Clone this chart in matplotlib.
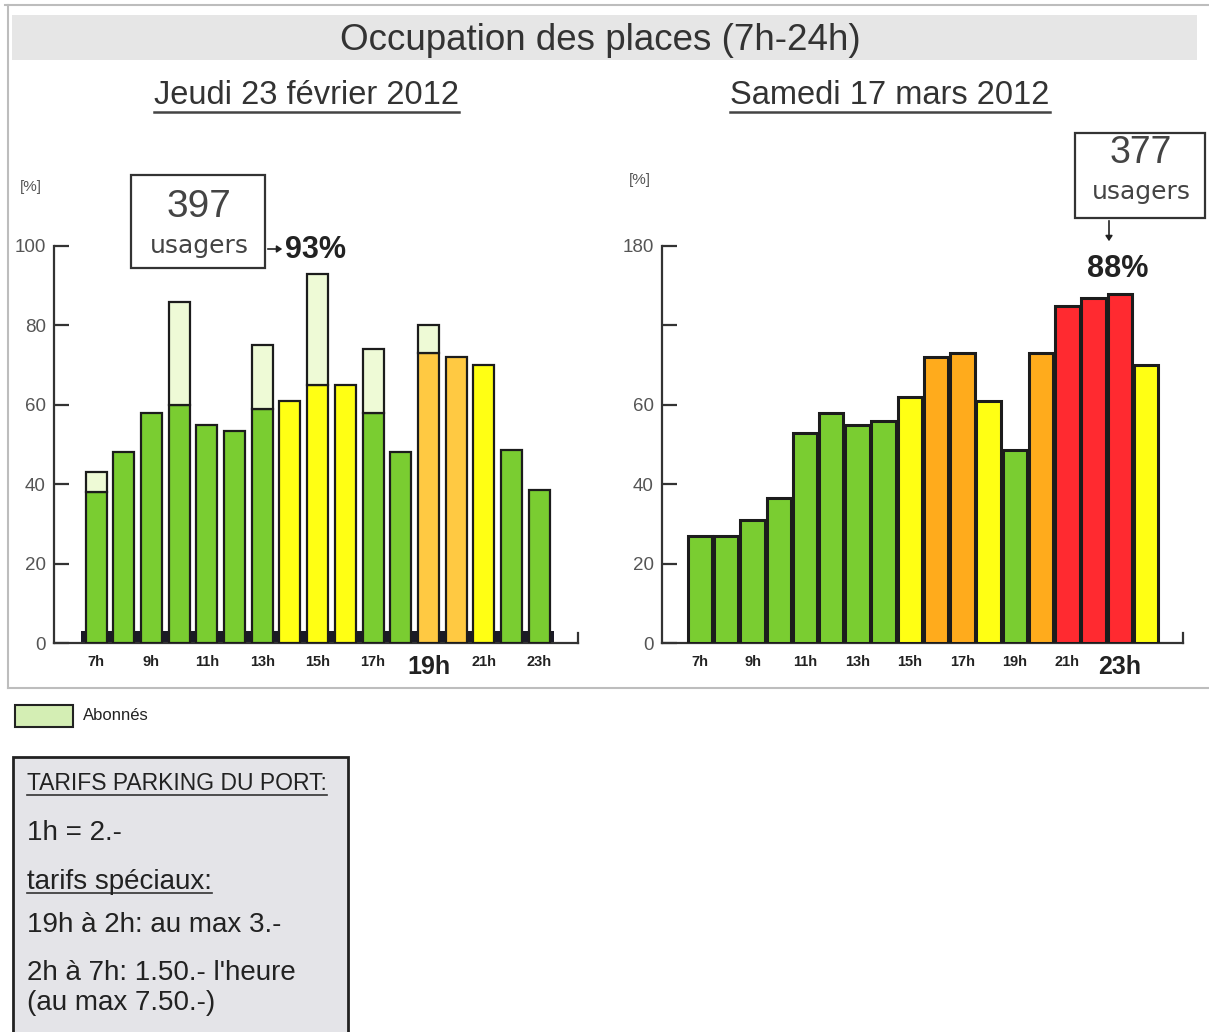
import matplotlib
matplotlib.use("Agg")
import matplotlib.pyplot as plt
from matplotlib.patches import Rectangle, FancyArrowPatch
from matplotlib.lines import Line2D

W, H, DPI = 1209, 1032, 100

# ---------------- data ----------------
heures_jeudi = [7, 8, 9, 10, 11, 12, 13, 14, 15, 16, 17, 18, 19, 20, 21, 22, 23]
jeudi_usagers = [38, 48, 58, 60, 55, 53.5, 59, 61, 65, 65, 58, 48, 73, 72, 70, 48.5, 38.5]
jeudi_abonnes = [5, 0, 0, 26, 0, 0, 16, 0, 28, 0, 16, 0, 7, 0, 0, 0, 0]
jeudi_niveaux = ["vert", "vert", "vert", "vert", "vert", "vert", "vert", "jaune", "jaune",
                 "jaune", "vert", "vert", "orange_clair", "orange_clair", "jaune", "vert", "vert"]

heures_samedi = [7, 8, 9, 10, 11, 12, 13, 14, 15, 16, 17, 18, 19, 20, 21, 22, 23, 24]
samedi_usagers = [27, 27, 31, 36.5, 53, 58, 55, 56, 62, 72, 73, 61, 48.5, 73, 85, 87, 88, 70]
samedi_niveaux = ["vert", "vert", "vert", "vert", "vert", "vert", "vert", "vert", "jaune",
                  "orange", "orange", "jaune", "vert", "orange", "rouge", "rouge", "rouge", "jaune"]

ticks_jeudi = [7, 9, 11, 13, 15, 17, 19, 21, 23]
ticks_samedi = [7, 9, 11, 13, 15, 17, 19, 21, 23]
grande_heure_jeudi = 19
grande_heure_samedi = 23
yticks = [0, 20, 40, 60, 80, 100]
ylabels_jeudi = ["0", "20", "40", "60", "80", "100"]
ylabels_samedi = ["0", "20", "40", "60", "", "180"]

usagers_jeudi = 397
usagers_samedi = 377

tarifs = ["TARIFS PARKING DU PORT:", "1h = 2.-", "tarifs spéciaux:",
          "19h à 2h: au max 3.-", "2h à 7h: 1.50.- l'heure", "(au max 7.50.-)"]

# ---------------- style ----------------
NIVEAU = {
    "vert": "#7acd31",
    "jaune": "#ffff14",
    "orange_clair": "#ffc942",
    "orange": "#ffab1c",
    "rouge": "#ff2a30",
}
ABONNE = "#eefad6"
ABONNE_LEGENDE = "#d4eeb4"
EDGE = "#1c1c1c"
AXIS = "#333333"

SANS = "Liberation Sans"
WIDE = "DejaVu Sans"
plt.rcParams["font.family"] = [SANS, "DejaVu Sans"]

fig = plt.figure(figsize=(W / DPI, H / DPI), dpi=DPI, facecolor="white")


def fx(x):
    return x / W


def fy(y):
    return 1 - y / H


def px_axes(x0, x1, y_top, y_bot):
    return fig.add_axes([fx(x0), fy(y_bot), (x1 - x0) / W, (y_bot - y_top) / H])


def ftext(x, y, s, **kw):
    return fig.text(fx(x), fy(y), s, transform=fig.transFigure, **kw)


def frect(x0, y0, x1, y1, **kw):
    r = Rectangle((fx(x0), fy(y1)), (x1 - x0) / W, (y1 - y0) / H,
                  transform=fig.transFigure, **kw)
    fig.patches.append(r)
    return r


def fline(xs, ys, **kw):
    fig.lines.append(Line2D([fx(x) for x in xs], [fy(y) for y in ys],
                            transform=fig.transFigure, **kw))


# outer frame and title band
fline([5, 1209], [5, 5], color="#bdbdbd", lw=1.5)
fline([8, 8], [5, 688], color="#bdbdbd", lw=1.5)
fline([8, 1209], [688, 688], color="#bdbdbd", lw=1.5)
frect(12, 15, 1197, 60, facecolor="#e6e6e6", edgecolor="none")
ftext(600, 40, "Occupation des places (7h-24h)", ha="center", va="center",
      fontsize=26.5, color="#333333")

sous_titres = [
    ftext(306, 96, "Jeudi 23 février 2012", ha="center", va="center",
          fontsize=23.5, color="#333333"),
    ftext(890, 96, "Samedi 17 mars 2012", ha="center", va="center",
          fontsize=23.5, color="#333333"),
]

# ---------------- charts ----------------
axL = px_axes(54, 578, 246, 643)
axR = px_axes(662, 1183, 246, 643)


def style_axes(ax, xlim, ylabels, ticks, grande):
    ax.set_xlim(*xlim)
    ax.set_ylim(0, 100)
    ax.patch.set_alpha(0)
    ax.spines["top"].set_visible(False)
    for s in ("left", "bottom", "right"):
        ax.spines[s].set_color(AXIS)
        ax.spines[s].set_linewidth(1.6)
    ax.spines["right"].set_bounds(0, 2.6)
    ax.set_yticks(yticks)
    ax.set_yticklabels(ylabels)
    ax.tick_params(axis="y", direction="in", length=11, width=1.6, color=AXIS,
                   labelsize=13.5, labelcolor="#555555", pad=6)
    ax.set_xticks(ticks)
    ax.set_xticklabels([f"{h}h" for h in ticks])
    ax.tick_params(axis="x", length=0, pad=9)
    for t, h in zip(ax.get_xticklabels(), ticks):
        t.set_fontweight("bold")
        t.set_color("#222222")
        t.set_fontsize(18 if h == grande else 10.5)


style_axes(axL, (5.48, 24.4), ylabels_jeudi, ticks_jeudi, grande_heure_jeudi)
style_axes(axR, (5.55, 25.41), ylabels_samedi, ticks_samedi, grande_heure_samedi)

# Thursday: dark base strip, occupancy bars, then subscriber share on top
axL.fill_between([heures_jeudi[0] - 0.55, heures_jeudi[-1] + 0.55], 0, 3,
                 color="#1a1a26", zorder=2, linewidth=0)
axL.bar(heures_jeudi, jeudi_usagers, width=0.76,
        color=[NIVEAU[n] for n in jeudi_niveaux],
        edgecolor=EDGE, linewidth=1.6, zorder=3)
ab_h = [h for h, a in zip(heures_jeudi, jeudi_abonnes) if a > 0]
ab_v = [a for a in jeudi_abonnes if a > 0]
ab_b = [u for u, a in zip(jeudi_usagers, jeudi_abonnes) if a > 0]
axL.bar(ab_h, ab_v, bottom=ab_b, width=0.76, color=ABONNE,
        edgecolor=EDGE, linewidth=1.6, zorder=3)

# Saturday
axR.bar(heures_samedi, samedi_usagers, width=0.93,
        color=[NIVEAU[n] for n in samedi_niveaux],
        edgecolor=EDGE, linewidth=2.2, zorder=3)

ftext(31, 187, "[%]", ha="center", va="center", fontsize=11, color="#555555")
ftext(640, 180, "[%]", ha="center", va="center", fontsize=11, color="#555555")

# peak call-outs
totaux_jeudi = [u + a for u, a in zip(jeudi_usagers, jeudi_abonnes)]
pic_jeudi = max(totaux_jeudi)
pic_samedi = max(samedi_usagers)

frect(131, 175, 265, 268, facecolor="white", edgecolor="#333333", lw=1.6)
ftext(199, 207, f"{usagers_jeudi}", ha="center", va="center", fontsize=28, color="#444444")
ftext(199, 246, "usagers", ha="center", va="center", fontsize=18, color="#444444",
      family=[WIDE])
fig.patches.append(FancyArrowPatch(
    (fx(265), fy(249)), (fx(285), fy(249)), transform=fig.transFigure,
    arrowstyle="-|>,head_length=3,head_width=2", color="#222222", lw=1.2))
ftext(285, 250, f"{pic_jeudi:.0f}%", ha="left", va="center", fontsize=22,
      fontweight="bold", color="#222222")

frect(1075, 133, 1205, 218, facecolor="white", edgecolor="#333333", lw=1.6)
ftext(1141, 153, f"{usagers_samedi}", ha="center", va="center", fontsize=27, color="#444444")
ftext(1141, 192, "usagers", ha="center", va="center", fontsize=18, color="#444444",
      family=[WIDE])
fig.patches.append(FancyArrowPatch(
    (fx(1109), fy(218)), (fx(1109), fy(244)), transform=fig.transFigure,
    arrowstyle="-|>,head_length=3,head_width=2", color="#222222", lw=1.2))
ftext(1118, 269, f"{pic_samedi:.0f}%", ha="center", va="center", fontsize=22,
      fontweight="bold", color="#222222")

# ---------------- legend and tariff box ----------------
frect(15, 705, 73, 727, facecolor=ABONNE_LEGENDE, edgecolor="#222222", lw=1.5)
ftext(83, 716, "Abonnés", ha="left", va="center", fontsize=12, color="#222222")

frect(13, 757, 348, 1045, facecolor="#e4e4e8", edgecolor="#222222", lw=2)
tarif_y = [783, 833, 882, 925, 973, 1003]
tarif_size = [16.5, 20, 20, 20, 20, 20]
tarif_txt = []
for s, y, fs in zip(tarifs, tarif_y, tarif_size):
    tarif_txt.append(ftext(27, y, s, ha="left", va="center", fontsize=fs, color="#222222"))

# underlines below selected headings
fig.canvas.draw()
renderer = fig.canvas.get_renderer()


def underline(t, gap=2, lw=1.4, color="#333333"):
    bb = t.get_window_extent(renderer)
    y = H - bb.y0 + gap
    fline([bb.x0, bb.x1], [y, y], color=color, lw=lw)


for t in sous_titres:
    underline(t, gap=1, lw=1.8, color="#444444")
underline(tarif_txt[0], gap=0, lw=1.2)
underline(tarif_txt[2], gap=-2, lw=1.2)

fig.savefig("out.png", dpi=DPI, facecolor="white")
